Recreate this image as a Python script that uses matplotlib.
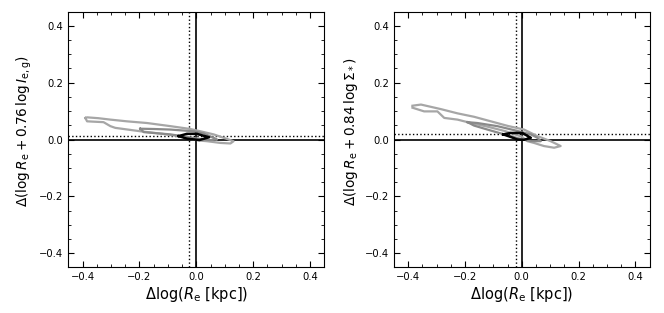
import matplotlib
matplotlib.use("Agg")
import matplotlib.pyplot as plt
from matplotlib.ticker import MultipleLocator

# ---- Left panel contours (x, y) ----
left_outer_x = [-0.390, -0.384, -0.344, -0.302, -0.244, -0.173, -0.091, -0.021, 0.014, 0.061, 0.108, 0.131,
                0.120, 0.084, 0.038, 0.014, -0.020, -0.056, -0.120, -0.197, -0.285, -0.302, -0.326, -0.384, -0.390]
left_outer_y = [0.076, 0.078, 0.075, 0.070, 0.064, 0.058, 0.047, 0.037, 0.029, 0.018, 0.002, -0.006,
                -0.014, -0.012, -0.006, -0.004, 0.002, 0.011, 0.020, 0.029, 0.041, 0.047, 0.061, 0.064, 0.076]
left_mid_x = [-0.197, -0.150, -0.091, -0.009, 0.026, 0.061, 0.073, 0.049, 0.014, -0.033, -0.091, -0.185, -0.197]
left_mid_y = [0.038, 0.037, 0.035, 0.029, 0.021, 0.006, 0.000, -0.002, 0.002, 0.009, 0.018, 0.026, 0.038]
left_in_x = [-0.062, -0.033, 0.002, 0.026, 0.045, 0.011, -0.033, -0.062]
left_in_y = [0.012, 0.020, 0.020, 0.013, 0.008, -0.002, 0.003, 0.012]
left_dot_x = -0.024
left_dot_y = 0.014

# ---- Right panel contours ----
right_outer_x = [-0.385, -0.355, -0.320, -0.285, -0.226, -0.168, -0.109, -0.050, 0.008, 0.055, 0.102, 0.137,
                 0.114, 0.078, 0.043, 0.020, 0.000, -0.060, -0.120, -0.179, -0.226, -0.273, -0.297, -0.344, -0.385]
right_outer_y = [0.119, 0.123, 0.115, 0.107, 0.092, 0.080, 0.064, 0.048, 0.035, 0.012, -0.006, -0.023,
                 -0.029, -0.023, -0.012, -0.006, 0.010, 0.030, 0.045, 0.058, 0.070, 0.076, 0.099, 0.099, 0.112]
right_mid_x = [-0.191, -0.156, -0.086, -0.027, 0.032, 0.055, 0.067, 0.032, -0.004, -0.062, -0.121, -0.168, -0.191]
right_mid_y = [0.061, 0.058, 0.047, 0.033, 0.018, 0.006, -0.006, -0.006, 0.002, 0.018, 0.035, 0.049, 0.061]
right_in_x = [-0.065, -0.039, 0.002, 0.032, 0.008, -0.015, -0.039, -0.065]
right_in_y = [0.018, 0.023, 0.023, 0.006, -0.001, 0.000, 0.009, 0.018]
right_dot_x = -0.021
right_dot_y = 0.018

xlabel = r'$\Delta\log(R_{\rm e}\ [\rm kpc])$'
ylabels = [r'$\Delta(\log R_{\rm e} + 0.76\,\log I_{\rm e,g})$',
           r'$\Delta(\log R_{\rm e} + 0.84\,\log \Sigma_*)$']

fig = plt.figure(figsize=(6.64, 3.13), dpi=100)
ax1 = fig.add_axes([68.3/664, (313-267.3)/313, 256/664, 255.6/313])
ax2 = fig.add_axes([394/664, (313-267.3)/313, 255.5/664, 255.6/313])

panels = [
    (ax1, left_outer_x, left_outer_y, left_mid_x, left_mid_y, left_in_x, left_in_y, left_dot_x, left_dot_y),
    (ax2, right_outer_x, right_outer_y, right_mid_x, right_mid_y, right_in_x, right_in_y, right_dot_x, right_dot_y),
]

for i, (ax, ox, oy, mx, my, ix, iy, dx, dy) in enumerate(panels):
    ax.axvline(0, color='black', lw=1.2, zorder=1)
    ax.axhline(0, color='black', lw=1.2, zorder=1)
    ax.axvline(dx, color='black', lw=1.0, ls=':', zorder=1)
    ax.axhline(dy, color='black', lw=1.0, ls=':', zorder=1)
    ax.plot(ox, oy, color='#a6a6a6', lw=1.6, zorder=2)
    ax.plot(mx, my, color='#8a8a8a', lw=1.6, zorder=3)
    ax.plot(ix, iy, color='black', lw=1.8, zorder=4)
    ax.set_xlim(-0.45, 0.45)
    ax.set_ylim(-0.45, 0.45)
    ax.xaxis.set_major_locator(MultipleLocator(0.2))
    ax.yaxis.set_major_locator(MultipleLocator(0.2))
    ax.xaxis.set_minor_locator(MultipleLocator(0.05))
    ax.yaxis.set_minor_locator(MultipleLocator(0.05))
    ax.tick_params(which='both', direction='in', top=True, right=True, labelsize=7.2)
    ax.tick_params(which='major', length=4, width=0.8)
    ax.tick_params(which='minor', length=2, width=0.6)
    ax.set_xlabel(xlabel, fontsize=10.5, labelpad=2)
    ax.set_ylabel(ylabels[i], fontsize=9.8)
    ax.yaxis.set_label_coords(-0.135, 0.533)

fig.savefig('out.png', dpi=100)
